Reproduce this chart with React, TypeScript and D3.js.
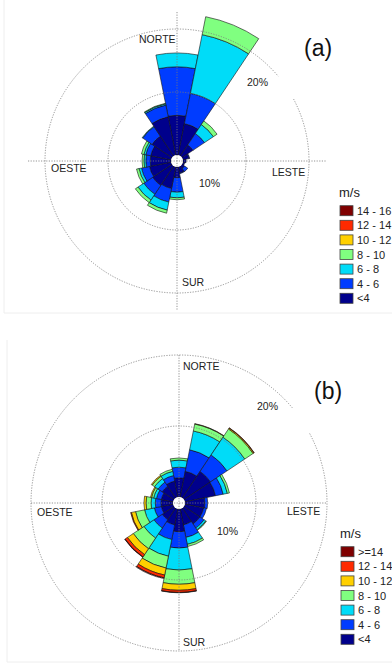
import * as d3 from "d3";
import React from "react";

// 16 compass sectors, clockwise from north
const directions = ["N", "NNE", "NE", "ENE", "E", "ESE", "SE", "SSE", "S", "SSW", "SW", "WSW", "W", "WNW", "NW", "NNW"];

// speed classes, slowest first (stack order from the centre)
const speedColors = ["#00008c", "#003cff", "#00dcf8", "#80ff80", "#ffd000", "#ff2a00", "#7f0000"];
const legendA = ["14 - 16", "12 - 14", "10 - 12", "8 - 10", "6 - 8", "4 - 6", "<4"];
const legendB = [">=14", "12 - 14", "10 - 12", "8 - 10", "6 - 8", "4 - 6", "<4"];
const ringValues = [10, 20];

// panel (a): frequency (%) of each speed class per direction
const aLt4 = [6.3, 5.1, 2.1, 1.0, 0.5, 0.3, 0.5, 1.0, 1.7, 3.5, 3.7, 3.5, 3.3, 3.3, 3.8, 6.2];
const a4to6 = [7.7, 4.9, 2.2, 0.1, 0, 0, 0.6, 0.1, 2.3, 2.2, 1.7, 1.3, 0.7, 0.8, 1.8, 1.9];
const a6to8 = [2.2, 9.5, 1.7, 0, 0, 0, 0, 0, 0.9, 1.3, 1.1, 0.4, 0.3, 0.3, 0.1, 0.2];
const a8to10 = [0, 2.9, 0.7, 0, 0, 0, 0, 0, 0.3, 0.5, 0.5, 0.4, 0.3, 0.4, 0, 0.1];
const a10to12 = [0, 0, 0, 0, 0, 0, 0, 0, 0, 0, 0, 0, 0, 0, 0, 0];
const a12to14 = [0, 0, 0, 0, 0, 0, 0, 0, 0, 0, 0, 0, 0, 0, 0, 0];
const a14to16 = [0, 0, 0, 0, 0, 0, 0, 0, 0, 0, 0, 0, 0, 0, 0, 0];

// panel (b)
const bLt4 = [2.7, 3.7, 4.5, 4.4, 2.8, 2.7, 2.7, 2.3, 3.2, 2.3, 2.0, 1.7, 1.7, 1.7, 2.0, 2.3];
const b4to6 = [1.5, 3.1, 2.8, 1.1, 0.4, 0.4, 0.7, 1.8, 2.3, 2.1, 1.4, 1.0, 0.8, 0.7, 0.7, 0.8];
const b6to8 = [1.0, 2.7, 3.0, 0.6, 0, 0, 0.3, 1.0, 3.1, 2.4, 1.7, 1.4, 0.6, 0.4, 0.6, 0.6];
const b8to10 = [0.3, 1.0, 1.4, 0.3, 0, 0, 0.1, 0.3, 2.0, 1.7, 1.8, 1.3, 0.7, 0.3, 0.4, 0.3];
const b10to12 = [0, 0.05, 0.15, 0, 0, 0, 0, 0, 0.85, 1.0, 1.0, 0.6, 0.3, 0.15, 0.15, 0];
const b12to14 = [0, 0, 0.05, 0, 0, 0, 0, 0, 0.3, 0.4, 0.4, 0.1, 0, 0, 0, 0];
const bGe14 = [0, 0, 0, 0, 0, 0, 0, 0, 0.05, 0.1, 0.05, 0, 0, 0, 0, 0];

const seriesA = [aLt4, a4to6, a6to8, a8to10, a10to12, a12to14, a14to16];
const seriesB = [bLt4, b4to6, b6to8, b8to10, b10to12, b12to14, bGe14];

const rad = (deg: number) => (deg * Math.PI) / 180;
const font = "'Liberation Sans', Arial, sans-serif";

type Pos = [number, number];
type RoseProps = {
  series: number[][];
  cx: number;
  cy: number;
  r20: number;
  axis: number;
  legend: string[];
  legendX: number;
  legendY: number;
  tag: string;
  tagPos: Pos;
  pos: { N: Pos; W: Pos; E: Pos; S: Pos; p10: Pos; p20: Pos };
};

const WindRose: React.FC<RoseProps> = ({ series, cx, cy, r20, axis, legend, legendX, legendY, tag, tagPos, pos }) => {
  const r = d3.scaleLinear([0, 20], [6, r20]);
  const step = 360 / directions.length;
  const arc = d3.arc<any>();

  const segs: { key: string; d: string; color: string }[] = [];
  directions.forEach((dir, i) => {
    let base = 0;
    series.forEach((s, k) => {
      const v = s[i];
      if (v > 0) {
        segs.push({
          key: `${dir}-${k}`,
          d: arc({ innerRadius: r(base), outerRadius: r(base + v), startAngle: rad(i * step - step / 2), endAngle: rad(i * step + step / 2) }) || "",
          color: speedColors[k],
        });
      }
      base += v;
    });
  });

  // outer ring is broken a little below the "20%" label
  const outer = d3.path();
  outer.arc(0, 0, r(20), rad(62 - 90), rad(50 - 90 + 360));

  const grid = { stroke: "#7a7a7a", strokeWidth: 0.8, strokeDasharray: "1.2,1.4", fill: "none" };
  const txt = { fontFamily: font, fontSize: 10.5, fill: "#222" };

  return (
    <g>
      <g transform={`translate(${cx},${cy})`}>
        {segs.map(s => (
          <path key={s.key} d={s.d} fill={s.color} stroke="#111" strokeWidth={0.6} />
        ))}
        <circle r={r(0)} fill="#fff" />
        <circle r={r(ringValues[0])} {...grid} />
        <path d={outer.toString()} {...grid} />
        <line x1={-axis} x2={axis} y1={0} y2={0} {...grid} />
        <line x1={0} x2={0} y1={-axis} y2={axis} {...grid} />
      </g>
      <text x={pos.N[0]} y={pos.N[1]} {...txt}>NORTE</text>
      <text x={pos.W[0]} y={pos.W[1]} {...txt}>OESTE</text>
      <text x={pos.E[0]} y={pos.E[1]} {...txt}>LESTE</text>
      <text x={pos.S[0]} y={pos.S[1]} {...txt}>SUR</text>
      <text x={pos.p10[0]} y={pos.p10[1]} {...txt}>{ringValues[0]}%</text>
      <text x={pos.p20[0]} y={pos.p20[1]} {...txt}>{ringValues[1]}%</text>
      <text x={tagPos[0]} y={tagPos[1]} fontFamily={font} fontSize={23} fill="#111">{tag}</text>
      <text x={legendX} y={legendY} fontFamily={font} fontSize={13} fill="#222">m/s</text>
      {legend.map((l, i) => {
        const top = legendY + 8.7 + i * 14.6;
        return (
          <g key={l}>
            <rect x={legendX + 1} y={top} width={13} height={10} fill={speedColors[legend.length - 1 - i]} stroke="#444" strokeWidth={0.8} />
            <text x={legendX + 18} y={top + 9} fontFamily={font} fontSize={11} fill="#222">{l}</text>
          </g>
        );
      })}
    </g>
  );
};

const App: React.FC = () => (
  <svg width={392} height={670} style={{ position: "absolute", left: 0, top: 0, background: "#fff" }}>
    <rect x={0} y={0} width={392} height={670} fill="#fff" />
    <path d="M4,0 V313 H392" fill="none" stroke="#eeeeee" strokeWidth={1} />
    <path d="M7,340 V662 H392" fill="none" stroke="#eeeeee" strokeWidth={1} />
    <WindRose
      series={seriesA}
      cx={177}
      cy={161}
      r20={132}
      axis={149}
      legend={legendA}
      legendX={339}
      legendY={197}
      tag="(a)"
      tagPos={[304, 56]}
      pos={{ N: [139, 43], W: [51, 172], E: [272, 176], S: [182, 286], p10: [199, 187], p20: [247, 86] }}
    />
    <WindRose
      series={seriesB}
      cx={179}
      cy={503}
      r20={148}
      axis={148}
      legend={legendB}
      legendX={340}
      legendY={538}
      tag="(b)"
      tagPos={[314, 399]}
      pos={{ N: [183, 370], W: [37, 516], E: [287, 515], S: [183, 646], p10: [217, 535], p20: [257, 410] }}
    />
  </svg>
);

export default App;
